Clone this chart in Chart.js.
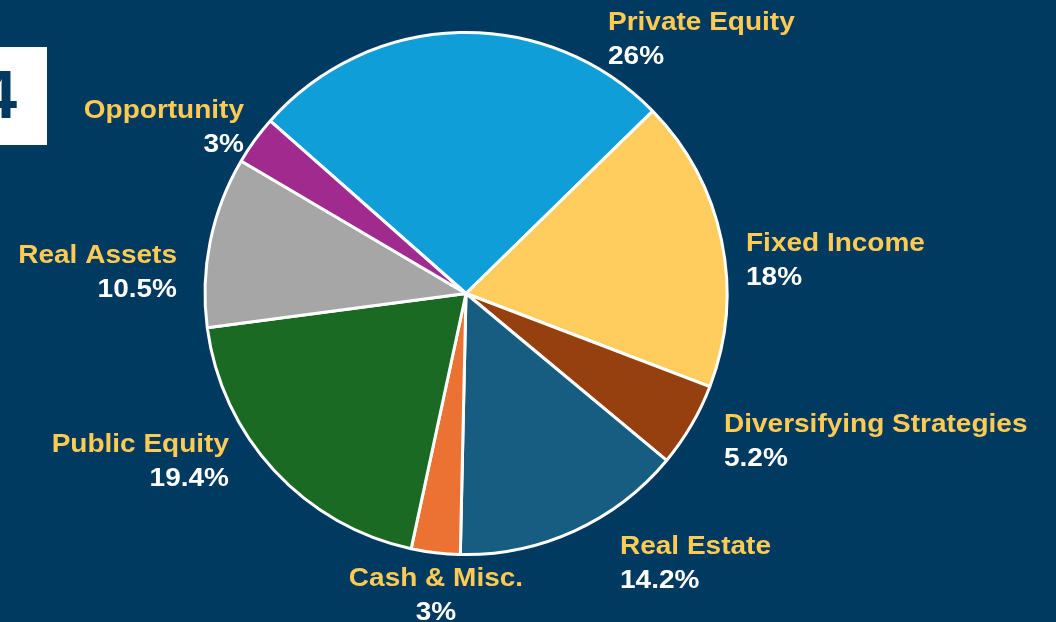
<!DOCTYPE html>
<html>
<head>
<meta charset="utf-8">
<script src="https://cdn.jsdelivr.net/npm/chart.js"></script>
<style>
  html, body { margin: 0; padding: 0; background: #003A61; overflow: hidden; }
  #wrap { position: relative; width: 1056px; height: 622px; }
  #badge {
    position: absolute; left: 0; top: 47px; width: 47px; height: 98px;
    background: #fff; overflow: hidden;
  }
  #badge span {
    position: absolute; right: 30px; top: 13px;
    font: bold 68px "Liberation Sans", Arial, sans-serif; color: #003A61;
    line-height: 68px;
  }
</style>
</head>
<body>
<div id="wrap">
  <canvas id="pie" width="1056" height="622"></canvas>
  <div id="badge"><span>4</span></div>
</div>
<script>
// allocation data
const categories = ['Private Equity', 'Fixed Income', 'Diversifying Strategies', 'Real Estate',
  'Cash & Misc.', 'Public Equity', 'Real Assets', 'Opportunity'];
const shares = [26, 18, 5.2, 14.2, 3, 19.4, 10.5, 3];
const shareLabels = ['26%', '18%', '5.2%', '14.2%', '3%', '19.4%', '10.5%', '3%'];
const sliceColors = ['#0F9ED7', '#FFCD5E', '#97400F', '#175D82', '#EC7234', '#1B6A23', '#A6A6A6', '#A02A8E'];

// where each label sits, relative to the pie centre (dx, dy of the name line, alignment)
const labelLayout = [
  [142, -270, 'left'], [280, -49, 'left'], [258, 132, 'left'], [154, 254, 'left'],
  [-30, 286, 'center'], [-237, 152, 'right'], [-289, -37, 'right'], [-222, -182, 'right']
];

const labelPlugin = {
  id: 'sliceLabels',
  afterDraw(chart) {
    const ctx = chart.ctx;
    const arc = chart.getDatasetMeta(0).data[0];
    const cx = arc.x, cy = arc.y;
    const stretch = 1.12; // source text is a bit wider than Liberation Sans
    const put = (txt, x, y, align, color) => {
      ctx.save();
      ctx.translate(x, y);
      ctx.scale(stretch, 1);
      ctx.textAlign = align;
      ctx.fillStyle = color;
      ctx.fillText(txt, 0, 0);
      ctx.restore();
    };
    ctx.save();
    ctx.font = 'bold 25px "Liberation Sans", Arial, sans-serif';
    ctx.textBaseline = 'middle';
    categories.forEach((name, i) => {
      const [dx, dy, align] = labelLayout[i];
      put(name, cx + dx, cy + dy, align, '#FFCB52');
      put(shareLabels[i], cx + dx, cy + dy + 34, align, '#FFFFFF');
    });
    ctx.restore();
  }
};

new Chart(document.getElementById('pie'), {
  type: 'pie',
  data: {
    labels: categories,
    datasets: [{
      data: shares,
      backgroundColor: sliceColors,
      borderColor: '#FFFFFF',
      borderWidth: 3
    }]
  },
  options: {
    responsive: false,
    animation: false,
    rotation: -48.6,
    layout: { padding: { top: 31, bottom: 66, left: 203, right: 327 } },
    plugins: { legend: { display: false }, tooltip: { enabled: false } }
  },
  plugins: [labelPlugin]
});
</script>
</body>
</html>
